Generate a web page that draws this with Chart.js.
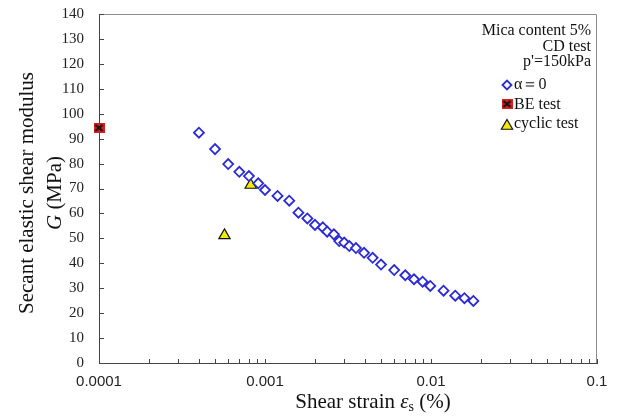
<!DOCTYPE html>
<html>
<head>
<meta charset="utf-8">
<script src="https://cdn.jsdelivr.net/npm/chart.js@4"></script>
<style>
  html, body { margin: 0; padding: 0; background: #fff; }
  #wrap { width: 619px; height: 419px; }
</style>
</head>
<body>
<div id="wrap"><canvas id="chart" width="619" height="419"></canvas></div>
<script>
"use strict";

// values
const strainAlpha0 = [0.0004, 0.0005, 0.0006, 0.0007, 0.0008, 0.00091, 0.001, 0.00119, 0.0014, 0.00159,
    0.0018, 0.002, 0.00223, 0.00237, 0.0026, 0.0028, 0.003, 0.00322, 0.00353, 0.00395,
    0.00445, 0.005, 0.006, 0.007, 0.0079, 0.0089, 0.0099, 0.0119, 0.014, 0.0159, 0.018];
const modulusAlpha0 = [92.4, 85.8, 79.8, 76.7, 75.0, 72.1, 69.4, 67.0, 65.1, 60.3,
    58.0, 55.4, 54.4, 52.7, 51.6, 48.9, 48.3, 46.9, 46.1, 44.2,
    42.2, 39.5, 37.3, 35.2, 33.6, 32.6, 30.9, 29.0, 27.0, 26.0, 24.9];
const strainBE = [0.0001];
const modulusBE = [94.3];
const strainCyclic = [0.00082, 0.00057];
const modulusCyclic = [71.4, 51.2];

const xTickLabels = ["0.0001", "0.001", "0.01", "0.1"];
const noteLines = ["Mica content 5%", "CD test", "p'=150kPa"];
const legendLabels = ["α＝0", "BE test", "cyclic test"];

const SERIF = "'Liberation Serif', 'Times New Roman', serif";
const SANS = "'Liberation Sans', Arial, sans-serif";
const BLUE = "#2b2bd6";

function pairs(xs, ys) {
    return xs.map((x, i) => ({ x, y: ys[i] }));
}

// red square with a black cross, like the BE marker
function makeBEMarker() {
    const c = document.createElement("canvas");
    c.width = 11;
    c.height = 10;
    const ctx = c.getContext("2d");
    ctx.fillStyle = "#d21f1f";
    ctx.fillRect(0, 0, 11, 10);
    ctx.strokeStyle = "#111";
    ctx.lineWidth = 2;
    ctx.beginPath();
    ctx.moveTo(2, 2);
    ctx.lineTo(9, 8);
    ctx.moveTo(9, 2);
    ctx.lineTo(2, 8);
    ctx.stroke();
    return c;
}
const beMarker = makeBEMarker();

// major + minor ticks of the log axis
const xTicks = [];
xTickLabels.forEach((label, i) => {
    const decade = Number(label);
    xTicks.push({ value: decade, text: label });
    if (i < xTickLabels.length - 1) {
        for (let m = 2; m <= 9; m++) {
            xTicks.push({ value: m * decade, text: "" });
        }
    }
});

function drawRuns(ctx, runs, x, y, align) {
    let total = 0;
    for (const r of runs) {
        ctx.font = r.font;
        total += ctx.measureText(r.text).width;
    }
    let cx = align === "center" ? x - total / 2 : x;
    ctx.textAlign = "left";
    for (const r of runs) {
        ctx.font = r.font;
        ctx.fillText(r.text, cx, y + (r.dy || 0));
        cx += ctx.measureText(r.text).width;
    }
}

const decorations = {
    id: "decorations",
    beforeDatasetsDraw(chart) {
        const { ctx, chartArea: a } = chart;
        const xs = chart.scales.x;
        const ys = chart.scales.y;
        ctx.save();
        // top and right frame
        ctx.strokeStyle = "#8c8c8c";
        ctx.lineWidth = 1;
        ctx.beginPath();
        ctx.moveTo(a.left, a.top + 0.5);
        ctx.lineTo(a.right - 0.5, a.top + 0.5);
        ctx.lineTo(a.right - 0.5, a.bottom);
        ctx.stroke();
        // inward tick marks
        ctx.strokeStyle = "#444";
        ctx.beginPath();
        for (const t of xs.ticks) {
            const px = Math.round(xs.getPixelForValue(t.value)) + 0.5;
            ctx.moveTo(px, a.bottom);
            ctx.lineTo(px, a.bottom - 4);
        }
        for (const t of ys.ticks) {
            const py = Math.round(ys.getPixelForValue(t.value)) + 0.5;
            ctx.moveTo(a.left, py);
            ctx.lineTo(a.left + 5, py);
        }
        ctx.stroke();
        ctx.restore();
    },
    afterDraw(chart) {
        const { ctx, chartArea: a } = chart;
        ctx.save();
        ctx.fillStyle = "#111";
        ctx.textBaseline = "alphabetic";

        // x axis title
        drawRuns(ctx, [
            { text: "Shear strain ", font: `21px ${SERIF}` },
            { text: "ε", font: `italic 21px ${SERIF}` },
            { text: "s", font: `14px ${SERIF}`, dy: 3 },
            { text: " (%)", font: `21px ${SERIF}` }
        ], 373, 408, "center");

        // y axis title, two lines
        ctx.save();
        ctx.translate(33, 193);
        ctx.rotate(-Math.PI / 2);
        drawRuns(ctx, [{ text: "Secant elastic shear modulus", font: `21px ${SERIF}` }], 0, 0, "center");
        ctx.restore();
        ctx.save();
        ctx.translate(61, 193);
        ctx.rotate(-Math.PI / 2);
        drawRuns(ctx, [
            { text: "G", font: `italic 21px ${SERIF}` },
            { text: " (MPa)", font: `21px ${SERIF}` }
        ], 0, 0, "center");
        ctx.restore();

        // notes in the top right corner
        ctx.font = `16px ${SERIF}`;
        ctx.textAlign = "right";
        const noteY = [35, 51, 66];
        noteLines.forEach((line, i) => ctx.fillText(line, a.right - 6, noteY[i]));

        // legend
        const rowY = [89, 109, 128];
        const markY = [85, 104, 126];
        chart.data.datasets.forEach((ds, i) => {
            const r = i === 0 ? 4.5 : ds.pointRadius;
            ctx.fillStyle = ds.backgroundColor;
            ctx.strokeStyle = ds.borderColor;
            ctx.lineWidth = ds.borderWidth;
            Chart.helpers.drawPoint(ctx, {
                pointStyle: ds.pointStyle,
                radius: r,
                borderWidth: ds.borderWidth,
                rotation: 0
            }, 507, markY[i]);
            ctx.fillStyle = "#111";
            ctx.font = `16px ${SERIF}`;
            ctx.textAlign = "left";
            ctx.fillText(legendLabels[i], 514, rowY[i]);
        });
        ctx.restore();
    }
};

new Chart(document.getElementById("chart"), {
    type: "scatter",
    data: {
        datasets: [
            {
                label: legendLabels[0],
                data: pairs(strainAlpha0, modulusAlpha0),
                pointStyle: "rectRot",
                pointRadius: 5,
                borderWidth: 1.8,
                borderColor: BLUE,
                backgroundColor: "#ffffff"
            },
            {
                label: legendLabels[1],
                data: pairs(strainBE, modulusBE),
                pointStyle: beMarker,
                pointRadius: 6,
                borderWidth: 0,
                borderColor: "#111",
                backgroundColor: "#d21f1f"
            },
            {
                label: legendLabels[2],
                data: pairs(strainCyclic, modulusCyclic),
                pointStyle: "triangle",
                pointRadius: 6.5,
                borderWidth: 1.2,
                borderColor: "#111",
                backgroundColor: "#f3ec00"
            }
        ]
    },
    options: {
        responsive: false,
        animation: false,
        devicePixelRatio: 1,
        layout: { padding: { left: 0, right: 22, top: 14, bottom: 0 } },
        datasets: { scatter: { clip: false } },
        plugins: {
            legend: { display: false },
            tooltip: { enabled: false }
        },
        scales: {
            x: {
                type: "logarithmic",
                min: 0.0001,
                max: 0.1,
                afterBuildTicks(scale) {
                    scale.ticks = xTicks.map((t) => ({ value: t.value, text: t.text }));
                },
                afterFit(scale) {
                    scale.height = 56;
                    scale.paddingLeft = 0;
                    scale.paddingRight = 0;
                },
                grid: { display: false, drawTicks: false },
                border: { display: true, color: "#444", width: 1 },
                ticks: {
                    autoSkip: false,
                    maxRotation: 0,
                    padding: 10,
                    color: "#222",
                    font: { family: SANS, size: 15 },
                    callback: (value, index, ticks) => ticks[index].text || ""
                }
            },
            y: {
                min: 0,
                max: 140,
                afterFit(scale) {
                    scale.width = 99;
                    scale.paddingTop = 0;
                    scale.paddingBottom = 0;
                },
                grid: { display: false, drawTicks: false },
                border: { display: true, color: "#444", width: 1 },
                ticks: {
                    stepSize: 10,
                    padding: 15,
                    color: "#222",
                    font: { family: SERIF, size: 15 }
                }
            }
        }
    },
    plugins: [decorations]
});
</script>
</body>
</html>
